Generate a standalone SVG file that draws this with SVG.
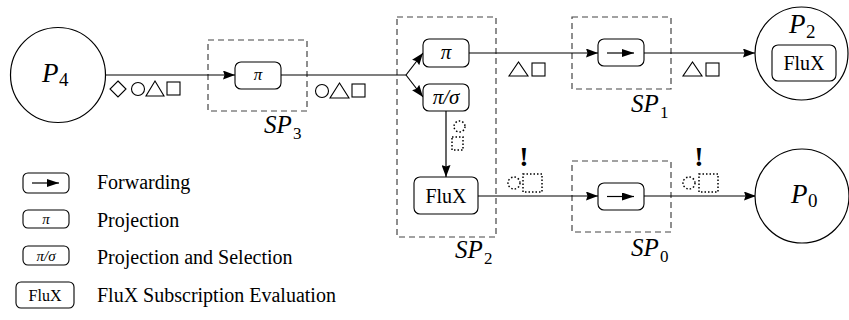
<svg xmlns="http://www.w3.org/2000/svg" width="849" height="320" viewBox="0 0 849 320">
<defs>
<style>
.node{fill:#fff;stroke:#000;stroke-width:1.2}
.op{fill:#fff;stroke:#000;stroke-width:1.1}
.sp{fill:none;stroke:#444;stroke-width:1.2;stroke-dasharray:6 4}
.edge{fill:none;stroke:#000;stroke-width:1.2}
.shp{fill:none;stroke:#000;stroke-width:1.1}
.dot{fill:none;stroke:#000;stroke-width:1.5;stroke-dasharray:1.5 2}
.math{font-family:"Liberation Serif","DejaVu Serif",serif;font-style:italic;fill:#000}
.rm{font-family:"Liberation Serif","DejaVu Serif",serif;fill:#000}
.bang{font-family:"Liberation Serif",serif;font-weight:bold;fill:#000;font-size:28px}
</style>
<marker id="ah" viewBox="0 0 12 9" refX="12" refY="4.5" markerWidth="12" markerHeight="9" markerUnits="userSpaceOnUse" orient="auto">
<path d="M0,0 L12,4.5 L0,9 L1.5,4.5 z" fill="#000"/>
</marker>
<marker id="ahs" viewBox="0 0 12 8" refX="12" refY="4" markerWidth="12" markerHeight="8" markerUnits="userSpaceOnUse" orient="auto">
<path d="M0,0 L12,4 L0,8 z" fill="#000"/>
</marker>
</defs>

<g id="sp3">
<rect class="sp" x="208" y="40" width="99" height="71"/>
<text class="math" x="264" y="133" font-size="25">SP</text>
<text class="rm" x="293" y="139" font-size="17">3</text>
</g>
<g id="sp2">
<rect class="sp" x="397" y="17" width="99" height="220"/>
<text class="math" x="455" y="258" font-size="25">SP</text>
<text class="rm" x="484" y="264" font-size="17">2</text>
</g>
<g id="sp1">
<rect class="sp" x="572" y="17" width="99" height="72"/>
<text class="math" x="631" y="112" font-size="25">SP</text>
<text class="rm" x="660" y="118" font-size="17">1</text>
</g>
<g id="sp0">
<rect class="sp" x="572" y="161" width="99" height="71"/>
<text class="math" x="631" y="256" font-size="25">SP</text>
<text class="rm" x="660" y="262" font-size="17">0</text>
</g>

<g id="connectors">
<line class="edge" x1="105" y1="75" x2="235" y2="75" marker-end="url(#ah)"/>
<polyline class="edge" points="281,75 406,75"/>
<line class="edge" x1="406" y1="75" x2="423" y2="53" marker-end="url(#ah)"/>
<line class="edge" x1="406" y1="75" x2="423" y2="97" marker-end="url(#ah)"/>
<line class="edge" x1="469" y1="53" x2="598" y2="53" marker-end="url(#ah)"/>
<line class="edge" x1="644" y1="53" x2="755" y2="53" marker-end="url(#ah)"/>
<line class="edge" x1="446" y1="111" x2="446" y2="177" marker-end="url(#ah)"/>
<line class="edge" x1="478" y1="196" x2="598" y2="196" marker-end="url(#ah)"/>
<line class="edge" x1="644" y1="196" x2="756" y2="196" marker-end="url(#ah)"/>
</g>

<g id="labels">
<polygon class="shp" points="118,81 126,89 118,97 110,89"/>
<circle class="shp" cx="138" cy="89" r="6.5"/>
<polygon class="shp" points="146,96 164,96 155,81"/>
<rect class="shp" x="167" y="82" width="13" height="13"/>
<circle class="shp" cx="322" cy="91" r="6.5"/>
<polygon class="shp" points="330,98 349,98 339.5,83"/>
<rect class="shp" x="352" y="84" width="13" height="13"/>
<polygon class="shp" points="509,76 528,76 518.5,62"/>
<rect class="shp" x="532" y="63" width="13" height="13"/>
<polygon class="shp" points="683,76 702,76 692.5,62"/>
<rect class="shp" x="706" y="63" width="13" height="13"/>
<circle class="dot" cx="459.5" cy="126.5" r="5.5"/>
<rect class="dot" x="452" y="137" width="11" height="13"/>
<text class="bang" x="524" y="166" text-anchor="middle">!</text>
<circle class="dot" cx="514" cy="183" r="6"/>
<rect class="dot" x="523" y="174" width="19" height="18"/>
<text class="bang" x="699" y="166" text-anchor="middle">!</text>
<circle class="dot" cx="689" cy="183" r="6"/>
<rect class="dot" x="699" y="174" width="19" height="18"/>
</g>

<g id="p4">
<circle class="node" cx="58" cy="75" r="47.5"/>
<text class="math" x="42" y="82" font-size="27">P</text>
<text class="rm" x="59" y="86" font-size="19">4</text>
</g>
<g id="p2">
<circle class="node" cx="801.5" cy="53.5" r="46.5"/>
<text class="math" x="789" y="33" font-size="27">P</text>
<text class="rm" x="806" y="38" font-size="19">2</text>
<rect class="op" x="772" y="45" width="64" height="36" rx="6"/>
<text class="rm" x="804" y="70" font-size="20" text-anchor="middle">FluX</text>
</g>
<g id="p0">
<circle class="node" cx="802" cy="196" r="47"/>
<text class="math" x="791" y="203" font-size="27">P</text>
<text class="rm" x="808" y="207" font-size="19">0</text>
</g>

<g id="proj3">
<rect class="op" x="235" y="62" width="46" height="27" rx="6"/>
<text class="math" x="258" y="80" font-size="17" text-anchor="middle">π</text>
</g>
<g id="proj2">
<rect class="op" x="423" y="39" width="46" height="28" rx="6"/>
<text class="math" x="446" y="59" font-size="21" text-anchor="middle">π</text>
</g>
<g id="projsel2">
<rect class="op" x="423" y="84" width="46" height="27" rx="6"/>
<text class="math" x="446" y="104" font-size="21" text-anchor="middle">π/σ</text>
</g>
<g id="flux2">
<rect class="op" x="414" y="177" width="64" height="37" rx="6"/>
<text class="rm" x="446" y="203" font-size="20" text-anchor="middle">FluX</text>
</g>
<g id="fwd1">
<rect class="op" x="598" y="39" width="46" height="27" rx="6"/>
<line class="edge" x1="607" y1="53" x2="634" y2="53" marker-end="url(#ahs)"/>
</g>
<g id="fwd0">
<rect class="op" x="598" y="183" width="46" height="27" rx="6"/>
<line class="edge" x1="607" y1="196.5" x2="634" y2="196.5" marker-end="url(#ahs)"/>
</g>

<g id="legend">
<rect class="op" x="23" y="173" width="46" height="20" rx="5"/>
<line class="edge" x1="32" y1="183" x2="59" y2="183" marker-end="url(#ahs)"/>
<text class="rm" x="97" y="189" font-size="20">Forwarding</text>
<rect class="op" x="23" y="210" width="46" height="18" rx="5"/>
<text class="math" x="46" y="224" font-size="15" text-anchor="middle">π</text>
<text class="rm" x="97" y="227" font-size="20">Projection</text>
<rect class="op" x="23" y="246" width="46" height="19" rx="5"/>
<text class="math" x="46" y="261" font-size="15" text-anchor="middle">π/σ</text>
<text class="rm" x="97" y="264" font-size="20">Projection and Selection</text>
<rect class="op" x="16" y="282" width="58" height="26" rx="5"/>
<text class="rm" x="45" y="301" font-size="16" text-anchor="middle">FluX</text>
<text class="rm" x="97" y="302" font-size="20">FluX Subscription Evaluation</text>
</g>
</svg>
